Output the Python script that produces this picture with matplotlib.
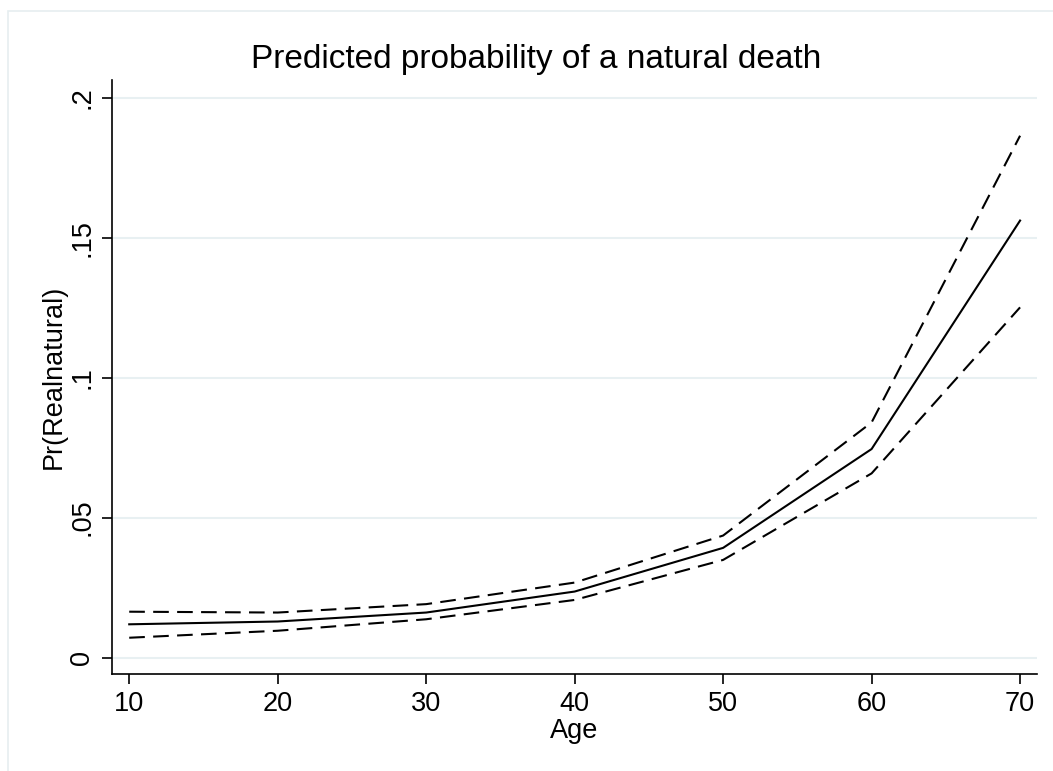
import matplotlib
matplotlib.use("Agg")
import matplotlib.pyplot as plt
from matplotlib.patches import Rectangle

plt.rcParams["font.family"] = ["Liberation Sans", "DejaVu Sans"]

# values
age = [10, 20, 30, 40, 50, 60, 70]
pr_mean = [0.0119, 0.0129, 0.0161, 0.0236, 0.0392, 0.0745, 0.1561]
pr_upper = [0.0164, 0.0161, 0.0191, 0.0268, 0.0436, 0.0840, 0.1864]
pr_lower = [0.0071, 0.0096, 0.0137, 0.0206, 0.0349, 0.0658, 0.1251]
y_ticks = [0, 0.05, 0.1, 0.15, 0.2]
y_tick_labels = ["0", ".05", ".1", ".15", ".2"]
x_ticks = [10, 20, 30, 40, 50, 60, 70]

W, H = 1053, 771
fig = plt.figure(figsize=(W / 100, H / 100), dpi=100)
fig.patch.set_facecolor("white")

# faint outer frame (Stata graph region)
fig.patches.append(Rectangle((8 / W, -0.1), 1.2, (H - 11) / H + 0.1,
                             transform=fig.transFigure, fill=False,
                             edgecolor="#e6eef0", linewidth=1.2))

left, right, top, bottom = 112, 1037, 80, 674
ax = fig.add_axes([left / W, 1 - bottom / H, (right - left) / W, (bottom - top) / H])

ax.plot(age, pr_mean, color="black", lw=1.5)
ax.plot(age, pr_upper, color="black", lw=1.5, linestyle=(0, (7.5, 4)))
ax.plot(age, pr_lower, color="black", lw=1.5, linestyle=(0, (7.5, 4)))

ax.set_xlim(8.84, 71.14)
ax.set_ylim(-0.00585, 0.2063)

ax.set_yticks(y_ticks)
ax.set_yticklabels(y_tick_labels, rotation=90, va="center")
ax.set_xticks(x_ticks)

ax.grid(axis="y", color="#e8f0f2", lw=1.5)
ax.set_axisbelow(True)

for s in ["top", "right"]:
    ax.spines[s].set_visible(False)
for s in ["left", "bottom"]:
    ax.spines[s].set_linewidth(1.2)

ax.tick_params(axis="both", length=7, width=1.2, labelsize=19.5, pad=5)

# title is centred on the whole graph region, not the plot area
fig.text(536 / W, 1 - 68 / H, "Predicted probability of a natural death",
         fontsize=24, ha="center", va="baseline")
ax.set_xlabel("Age", fontsize=19.5, labelpad=1)
ax.set_ylabel("Pr(Realnatural)", fontsize=19.5, labelpad=2)

fig.savefig("out.png", dpi=100)
